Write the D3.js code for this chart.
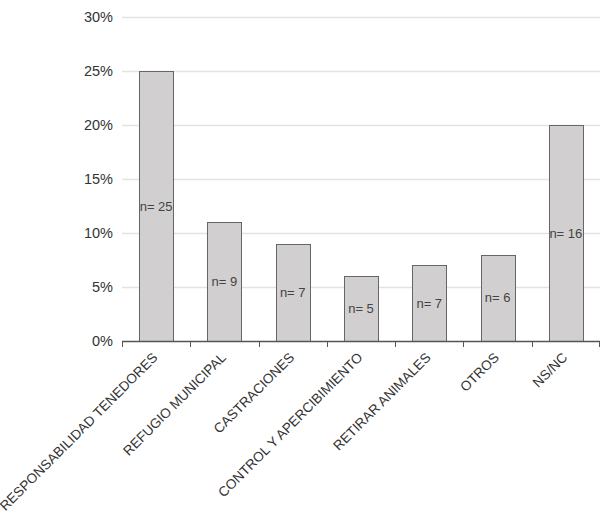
<!DOCTYPE html>
<html><head><meta charset="utf-8">
<script src="https://cdn.jsdelivr.net/npm/d3@7"></script>
<style>body{margin:0;background:#fff}svg{display:block;font-family:"Liberation Sans",Arial,sans-serif}</style>
</head><body><svg id="c" width="600" height="520"></svg>
<script>
const categories = ["RESPONSABILIDAD TENEDORES","REFUGIO MUNICIPAL","CASTRACIONES","CONTROL Y APERCIBIMIENTO","RETIRAR ANIMALES","OTROS","NS/NC"];
const percents = [25, 11, 9, 6, 7, 8, 20];
const counts = [25, 9, 7, 5, 7, 6, 16];
const yTicks = [0, 5, 10, 15, 20, 25, 30];

(function () {
const svg = d3.select("#c");
const mLeft = 122, mRight = 600, mTop = 17, mBottom = 341;
const x = d3.scaleBand().domain(categories).range([mLeft, mRight]).paddingInner(0.5).paddingOuter(0.25);
const y = d3.scaleLinear().domain([0, 30]).range([mBottom, mTop]);

// gridlines
svg.append("g").selectAll("line").data(yTicks.filter(d => d > 0)).join("line")
  .attr("x1", mLeft).attr("x2", mRight)
  .attr("y1", d => y(d) + 0.5).attr("y2", d => y(d) + 0.5)
  .attr("stroke", "#e3e3e3").attr("stroke-width", 1.5);

// y labels
svg.append("g").selectAll("text").data(yTicks).join("text")
  .attr("x", 113).attr("y", d => y(d)).attr("dy", "0.35em")
  .attr("text-anchor", "end").attr("font-size", 14.5).attr("fill", "#333")
  .text(d => d + "%");

// bars
svg.append("g").selectAll("rect").data(categories).join("rect")
  .attr("x", d => Math.round(x(d)) + 0.5)
  .attr("y", (d, i) => Math.round(y(percents[i])) + 0.5)
  .attr("width", Math.round(x.bandwidth()))
  .attr("height", (d, i) => Math.round(y(0)) - Math.round(y(percents[i])))
  .attr("fill", "#d2cfd0").attr("stroke", "#666").attr("stroke-width", 1);

// n labels
svg.append("g").selectAll("text").data(categories).join("text")
  .attr("x", d => x(d) + x.bandwidth() / 2)
  .attr("y", (d, i) => (y(percents[i]) + y(0)) / 2)
  .attr("dy", "0.35em").attr("text-anchor", "middle")
  .attr("font-size", 13).attr("fill", "#444")
  .text((d, i) => "n= " + counts[i]);

// x axis
const xAxisG = svg.append("g");
xAxisG.append("line").attr("x1", mLeft).attr("x2", mRight).attr("y1", mBottom + 0.5).attr("y2", mBottom + 0.5)
  .attr("stroke", "#555").attr("stroke-width", 1.5);
const boundaries = d3.range(categories.length + 1).map(i => mLeft + i * x.step());
xAxisG.selectAll("line.tk").data(boundaries).join("line").attr("class", "tk")
  .attr("x1", d => Math.min(Math.round(d), mRight - 1) + 0.5).attr("x2", d => Math.min(Math.round(d), mRight - 1) + 0.5)
  .attr("y1", mBottom).attr("y2", mBottom + 6)
  .attr("stroke", "#555").attr("stroke-width", 1);

xAxisG.selectAll("text").data(categories).join("text")
  .attr("transform", d => `translate(${x(d) + x.bandwidth() / 2 - 1},${mBottom + 14}) rotate(-45)`)
  .attr("text-anchor", "end").attr("dy", "0.35em")
  .attr("font-size", 13.6).attr("fill", "#333")
  .text(d => d);
})();
</script></body></html>
